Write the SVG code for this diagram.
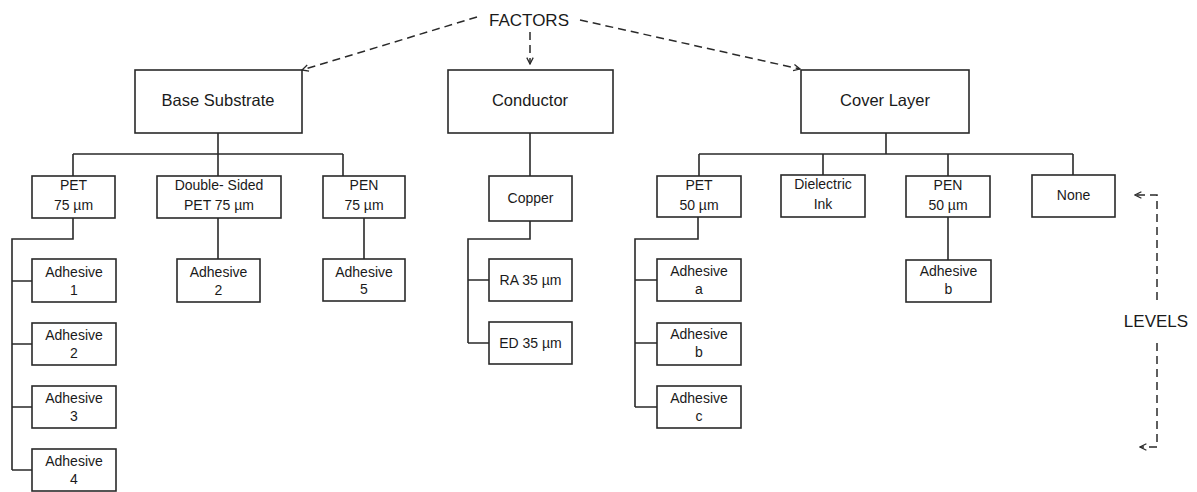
<svg xmlns="http://www.w3.org/2000/svg" width="1197" height="492" viewBox="0 0 1197 492">
<defs>
<style>
.box{fill:#fff;stroke:#2a2a2a;stroke-width:1.6}
.ln{fill:none;stroke:#2a2a2a;stroke-width:1.6}
.dash{fill:none;stroke:#2a2a2a;stroke-width:1.5;stroke-dasharray:8 5}
.big{font-family:"Liberation Sans",Arial,sans-serif;font-size:16.5px;fill:#1a1a1a;text-anchor:middle}
.sm{font-family:"Liberation Sans",Arial,sans-serif;font-size:14px;fill:#1a1a1a;text-anchor:middle}
.lab{font-family:"Liberation Sans",Arial,sans-serif;font-size:17px;fill:#1a1a1a;text-anchor:middle}
</style>
<marker id="arr" viewBox="0 0 10 10" refX="9" refY="5" markerWidth="8" markerHeight="8" markerUnits="userSpaceOnUse" orient="auto">
<path d="M1,1 L9,5 L1,9" fill="none" stroke="#2a2a2a" stroke-width="1.6"/>
</marker>
</defs>
<rect width="1197" height="492" fill="#fff"/>

<g id="labels">
<text class="lab" x="529" y="26">FACTORS</text>
<text class="lab" x="1156" y="327">LEVELS</text>
</g>

<g id="connectors">
<path class="dash" d="M477,17 L302,70" marker-end="url(#arr)"/>
<path class="dash" d="M580,20 L800,69" marker-end="url(#arr)"/>
<path class="dash" d="M530,32 L530,64" marker-end="url(#arr)"/>
<path class="dash" d="M1157,300 L1157,195 L1135,195" marker-end="url(#arr)"/>
<path class="dash" d="M1157,343 L1157,447 L1140,447" marker-end="url(#arr)"/>

<path class="ln" d="M218,133 V154 M73,154 H343 M73,154 V176 M218,154 V176 M343,154 V176"/>
<path class="ln" d="M73,218 V239 H12 V470 M12,281 H32 M12,344 H32 M12,407 H32 M12,470 H32"/>
<path class="ln" d="M218,218 V259 M364,218 V259"/>
<path class="ln" d="M530,133 V176 M530,221 V239 H468 V343 M468,280 H489 M468,343 H489"/>
<path class="ln" d="M886,133 V154 M699,154 H1073 M699,154 V176 M823,154 V176 M948,154 V176 M1073,154 V176"/>
<path class="ln" d="M698,217 V239 H635 V407 M635,280 H657 M635,343 H657 M635,407 H657"/>
<path class="ln" d="M948,217 V260"/>
</g>

<g id="base-substrate"><rect class="box" x="135" y="70" width="167" height="63"/><text class="big" x="218" y="106">Base Substrate</text></g>
<g id="conductor"><rect class="box" x="448" y="70" width="165" height="63"/><text class="big" x="530" y="106">Conductor</text></g>
<g id="cover-layer"><rect class="box" x="801" y="70" width="168" height="63"/><text class="big" x="885" y="106">Cover Layer</text></g>

<g id="pet75"><rect class="box" x="32" y="176" width="83" height="42"/><text class="sm" x="73.5" y="190">PET</text><text class="sm" x="73.5" y="210">75 µm</text></g>
<g id="ds-pet75"><rect class="box" x="157" y="176" width="124" height="42"/><text class="sm" x="219" y="190">Double- Sided</text><text class="sm" x="219" y="210">PET 75 µm</text></g>
<g id="pen75"><rect class="box" x="323" y="176" width="82" height="42"/><text class="sm" x="364" y="190">PEN</text><text class="sm" x="364" y="210">75 µm</text></g>

<g id="adh1"><rect class="box" x="32" y="259" width="84" height="43"/><text class="sm" x="74" y="277">Adhesive</text><text class="sm" x="74" y="295">1</text></g>
<g id="adh2a"><rect class="box" x="32" y="323" width="84" height="42"/><text class="sm" x="74" y="340">Adhesive</text><text class="sm" x="74" y="358">2</text></g>
<g id="adh3"><rect class="box" x="32" y="386" width="84" height="42"/><text class="sm" x="74" y="403">Adhesive</text><text class="sm" x="74" y="421">3</text></g>
<g id="adh4"><rect class="box" x="32" y="449" width="84" height="42"/><text class="sm" x="74" y="466">Adhesive</text><text class="sm" x="74" y="484">4</text></g>
<g id="adh2b"><rect class="box" x="177" y="259" width="83" height="43"/><text class="sm" x="218.5" y="277">Adhesive</text><text class="sm" x="218.5" y="295">2</text></g>
<g id="adh5"><rect class="box" x="323" y="259" width="82" height="42"/><text class="sm" x="364" y="277">Adhesive</text><text class="sm" x="364" y="294">5</text></g>

<g id="copper"><rect class="box" x="489" y="176" width="83" height="45"/><text class="sm" x="530.5" y="203">Copper</text></g>
<g id="ra35"><rect class="box" x="489" y="259" width="83" height="42"/><text class="sm" x="530.5" y="285">RA 35 µm</text></g>
<g id="ed35"><rect class="box" x="489" y="322" width="83" height="42"/><text class="sm" x="530.5" y="348">ED 35 µm</text></g>

<g id="pet50"><rect class="box" x="657" y="176" width="84" height="41"/><text class="sm" x="699" y="190">PET</text><text class="sm" x="699" y="210">50 µm</text></g>
<g id="dielectric"><rect class="box" x="781" y="175" width="84" height="42"/><text class="sm" x="823" y="189">Dielectric</text><text class="sm" x="823" y="209">Ink</text></g>
<g id="pen50"><rect class="box" x="906" y="176" width="84" height="41"/><text class="sm" x="948" y="190">PEN</text><text class="sm" x="948" y="210">50 µm</text></g>
<g id="none"><rect class="box" x="1032" y="175" width="83" height="42"/><text class="sm" x="1073.5" y="200">None</text></g>

<g id="adha"><rect class="box" x="657" y="259" width="84" height="42"/><text class="sm" x="699" y="276">Adhesive</text><text class="sm" x="699" y="294">a</text></g>
<g id="adhb"><rect class="box" x="657" y="323" width="84" height="42"/><text class="sm" x="699" y="339">Adhesive</text><text class="sm" x="699" y="357">b</text></g>
<g id="adhc"><rect class="box" x="657" y="386" width="84" height="42"/><text class="sm" x="699" y="403">Adhesive</text><text class="sm" x="699" y="421">c</text></g>
<g id="adhb2"><rect class="box" x="906" y="260" width="85" height="42"/><text class="sm" x="948.5" y="276">Adhesive</text><text class="sm" x="948.5" y="294">b</text></g>
</svg>
